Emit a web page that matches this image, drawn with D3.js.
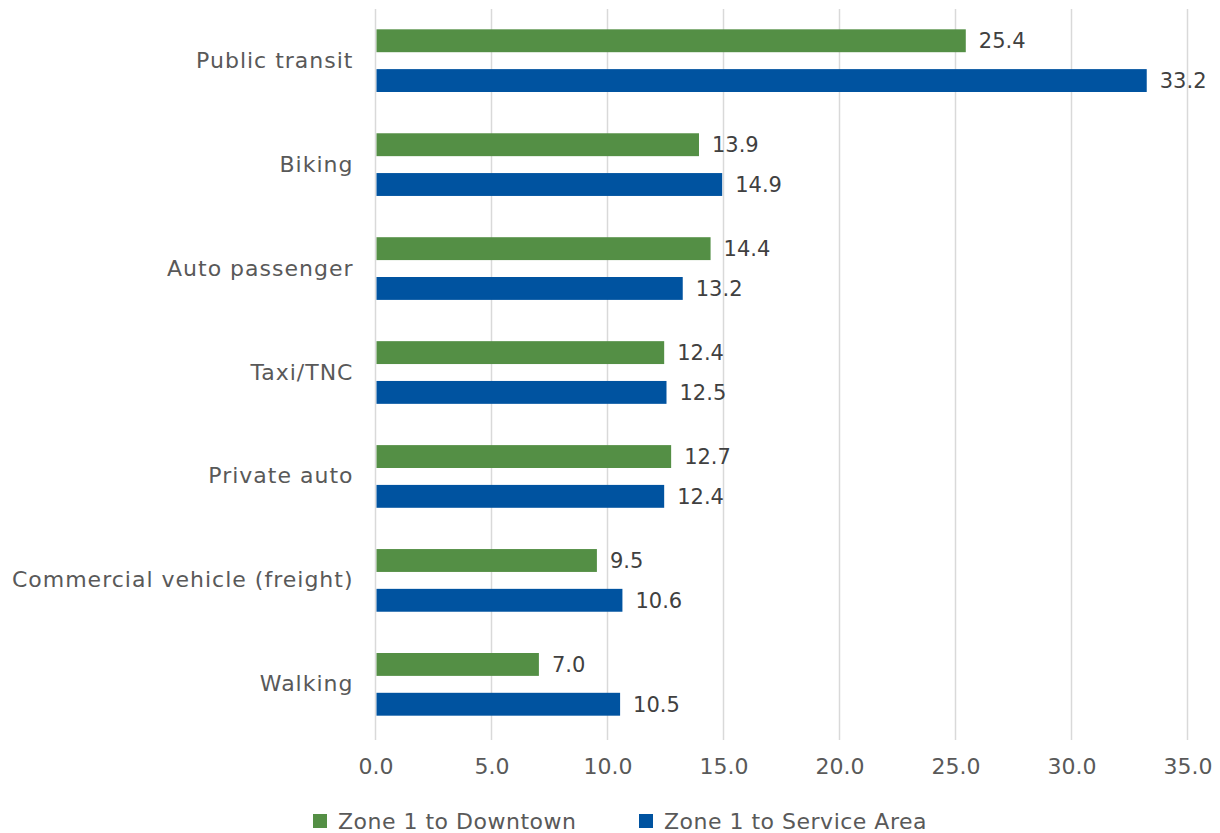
<!DOCTYPE html>
<html>
<head>
<meta charset="utf-8">
<script src="https://cdn.jsdelivr.net/npm/d3@7"></script>
<style>
  body { margin: 0; background: #fff; }
  text { font-family: "DejaVu Sans", sans-serif; }
</style>
</head>
<body>
<div id="chart"></div>
<script>
// categories, top to bottom
const categories = ["Public transit", "Biking", "Auto passenger", "Taxi/TNC",
    "Private auto", "Commercial vehicle (freight)", "Walking"];
const seriesNames = ["Zone 1 to Downtown", "Zone 1 to Service Area"];
const downtownVals = [25.4, 13.9, 14.4, 12.4, 12.7, 9.5, 7.0];
const serviceVals = [33.2, 14.9, 13.2, 12.5, 12.4, 10.6, 10.5];
const xTicks = [0, 5, 10, 15, 20, 25, 30, 35];
const colors = ["#548f45", "#0053a0"];

const width = 1220, height = 833;
const margin = {top: 6.5, right: 33, bottom: 94.5, left: 375.5};

const svg = d3.select("#chart")
    .append("svg")
    .attr("width", width)
    .attr("height", height);

const g = svg.append("g")
    .attr("transform", "translate(" + margin.left + "," + margin.top + ")");

const plotW = 812, plotH = height - margin.top - margin.bottom;

// x scale
const x = d3.scaleLinear()
    .domain([0, 35])
    .range([0, plotW]);

// category scale
const y = d3.scaleBand()
    .domain(categories)
    .range([0, plotH])
    .paddingInner(0.397)
    .paddingOuter(0.2195);

// series inside a category
const ySub = d3.scaleBand()
    .domain(seriesNames)
    .range([0, y.bandwidth()])
    .paddingInner(0.425);

// gridlines
g.selectAll(".grid")
    .data(xTicks)
    .enter()
    .append("line")
    .attr("x1", d => x(d))
    .attr("x2", d => x(d))
    .attr("y1", 2.5)
    .attr("y2", plotH + 1.5)
    .attr("stroke", "#d9d9d9")
    .attr("stroke-width", 1.5);

// x axis labels
const xAxis = g.append("g")
    .attr("transform", "translate(0," + (plotH + 1.5) + ")")
    .call(d3.axisBottom(x).tickValues(xTicks).tickFormat(d3.format(".1f")).tickSize(0).tickPadding(18));
xAxis.select(".domain").remove();
xAxis.selectAll("text")
    .style("font-size", "22px")
    .style("font-family", "'DejaVu Sans', sans-serif")
    .attr("fill", "#595959");

// y axis labels
const yAxis = g.append("g")
    .call(d3.axisLeft(y).tickSize(0).tickPadding(22));
yAxis.select(".domain").remove();
yAxis.selectAll("text")
    .style("font-size", "22px")
    .style("letter-spacing", "1px")
    .style("font-family", "'DejaVu Sans', sans-serif")
    .attr("fill", "#595959");

const rows = categories.map((c, i) => ({cat: c, vals: [downtownVals[i], serviceVals[i]]}));

const groups = g.selectAll(".grp")
    .data(rows)
    .enter()
    .append("g")
    .attr("transform", d => "translate(0," + y(d.cat) + ")");

groups.selectAll("rect")
    .data(d => d.vals.map((v, j) => ({key: seriesNames[j], v: v, j: j})))
    .enter()
    .append("rect")
    .attr("x", x(0) + 1)
    .attr("y", d => ySub(d.key))
    .attr("width", d => x(d.v) - x(0))
    .attr("height", ySub.bandwidth())
    .attr("fill", d => colors[d.j]);

// value labels
groups.selectAll(".val")
    .data(d => d.vals.map((v, j) => ({key: seriesNames[j], v: v})))
    .enter()
    .append("text")
    .attr("x", d => x(d.v) + 14)
    .attr("y", d => ySub(d.key) + ySub.bandwidth() / 2)
    .attr("dy", "0.35em")
    .style("font-size", "21px")
    .attr("fill", "#404040")
    .text(d => d3.format(".1f")(d.v));

// legend
const legendX = [313, 639];
const legend = svg.selectAll(".leg")
    .data(seriesNames)
    .enter()
    .append("g")
    .attr("transform", (d, i) => "translate(" + legendX[i] + ",821)");

legend.append("rect")
    .attr("x", 0)
    .attr("y", -7)
    .attr("width", 14)
    .attr("height", 14)
    .attr("fill", (d, i) => colors[i]);

legend.append("text")
    .attr("x", 25)
    .attr("dy", "0.35em")
    .style("font-size", "22px")
    .style("letter-spacing", "0.5px")
    .attr("fill", "#595959")
    .text(d => d);
</script>
</body>
</html>
